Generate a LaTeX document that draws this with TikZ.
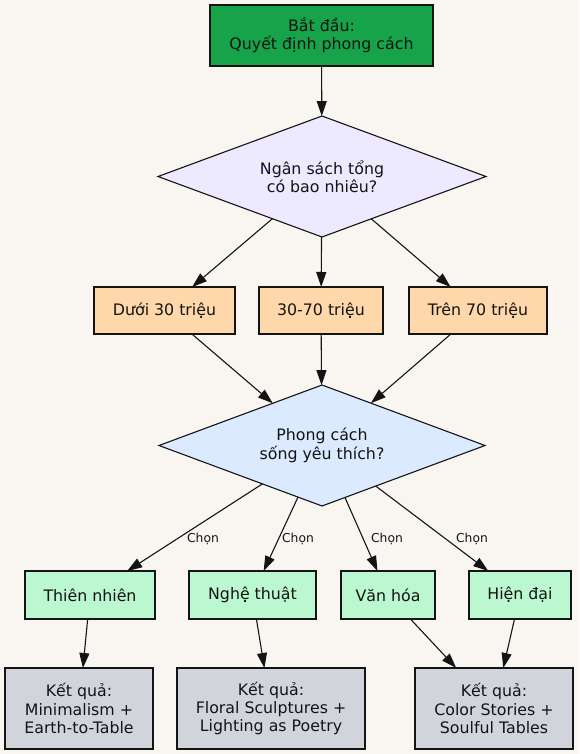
\documentclass[tikz,border=0pt]{standalone}
\usepackage{fontspec}
\setmainfont{DejaVu Sans}
\usetikzlibrary{shapes.geometric,arrows.meta}
\definecolor{bgc}{HTML}{F9F6F2}
\definecolor{startc}{HTML}{16A34A}
\definecolor{lavc}{HTML}{EDE9FE}
\definecolor{peachc}{HTML}{FED7AA}
\definecolor{bluec}{HTML}{DBEAFE}
\definecolor{mintc}{HTML}{BBF7D0}
\definecolor{grayc}{HTML}{D1D5DB}
\definecolor{linec}{HTML}{141414}
\begin{document}
\begin{tikzpicture}[x=1pt,y=-1pt,
  box/.style={draw=linec, line width=1.1pt, font=\fontsize{15.8}{18.4}\selectfont, align=center, inner sep=0pt, outer sep=0pt, text=linec},
  dia/.style={box, diamond, shape aspect=2.7, inner sep=1pt},
  arr/.style={draw=linec, line width=1.1pt, -{Triangle[length=15pt,width=10pt]}},
  lab/.style={font=\fontsize{12.3}{14}\selectfont, text=linec, inner sep=0pt}]
\fill[bgc] (0,0) rectangle (579,754);
\useasboundingbox (0,0) rectangle (579,754);

\node[box, fill=startc, minimum width=223pt, minimum height=61pt] (start) at (321.5,35.5) {Bắt đầu:\\Quyết định phong cách};
\node[dia, fill=lavc, minimum width=328pt, minimum height=121pt] (d1) at (322,176.5) {Ngân sách tổng\\có bao nhiêu?};
\node[box, fill=peachc, minimum width=141pt, minimum height=47pt] (b1) at (164.5,310.5) {Dưới 30 triệu};
\node[box, fill=peachc, minimum width=124pt, minimum height=47pt] (b2) at (321,310.5) {30-70 triệu};
\node[box, fill=peachc, minimum width=138pt, minimum height=47pt] (b3) at (478,310.5) {Trên 70 triệu};
\node[dia, fill=bluec, minimum width=326pt, minimum height=121pt] (d2) at (322,445.5) {Phong cách\\sống yêu thích?};
\node[box, fill=mintc, minimum width=130pt, minimum height=48pt] (s1) at (90,595) {Thiên nhiên};
\node[box, fill=mintc, minimum width=127pt, minimum height=48pt] (s2) at (252.5,595) {Nghệ thuật};
\node[box, fill=mintc, minimum width=94pt, minimum height=48pt] (s3) at (388,595) {Văn hóa};
\node[box, fill=mintc, minimum width=102pt, minimum height=48pt] (s4) at (520,595) {Hiện đại};
\node[box, fill=grayc, minimum width=148pt, minimum height=81pt] (r1) at (79,708.5) {Kết quả:\\Minimalism +\\Earth-to-Table};
\node[box, fill=grayc, minimum width=188pt, minimum height=81pt] (r2) at (271,708.5) {Kết quả:\\Floral Sculptures +\\Lighting as Poetry};
\node[box, fill=grayc, minimum width=158pt, minimum height=81pt] (r3) at (494,708.5) {Kết quả:\\Color Stories +\\Soulful Tables};

\draw[arr] (start) -- (d1);
\draw[arr] (d1) -- (b1);
\draw[arr] (d1) -- (b2);
\draw[arr] (d1) -- (b3);
\draw[arr] (b1) -- (d2);
\draw[arr] (b2) -- (d2);
\draw[arr] (b3) -- (d2);
\draw[arr] (d2) -- (s1);
\draw[arr] (d2) -- (s2);
\draw[arr] (d2) -- (s3);
\draw[arr] (d2) -- (s4);
\draw[arr] (s1) -- (r1);
\draw[arr] (s2) -- (r2);
\draw[arr] (s3) -- (r3);
\draw[arr] (s4) -- (r3);

\node[lab] (l1) at (203,539) {Chọn};
\node[lab] (l2) at (298,539) {Chọn};
\node[lab] (l3) at (387,539) {Chọn};
\node[lab] (l4) at (472,539) {Chọn};
\end{tikzpicture}
\end{document}
